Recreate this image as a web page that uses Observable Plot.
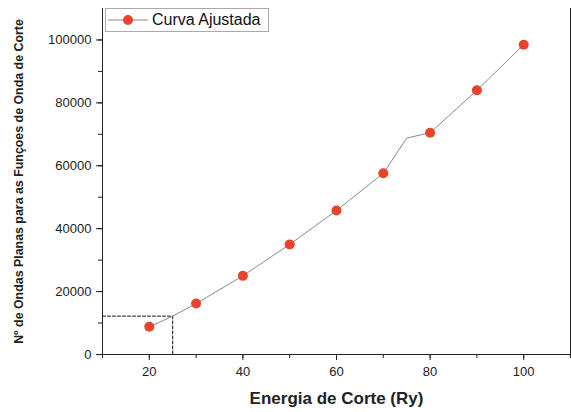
<!DOCTYPE html>
<html><head><meta charset="utf-8">
<script src="https://cdn.jsdelivr.net/npm/d3@7"></script>
<script src="https://cdn.jsdelivr.net/npm/@observablehq/plot@0.6"></script>
<style>
body{margin:0;background:#fff;font-family:"Liberation Sans",Arial,sans-serif}
#wrap{position:relative;width:571px;height:412px}
#legend{position:absolute;left:105px;top:8px;width:162px;height:22px;border:1px solid #aaa;background:#fff;display:flex;align-items:center;font-size:16px;color:#111}
#legend svg{margin-left:2px;margin-right:4px}
</style></head>
<body><div id="wrap"></div>
<script>
const energy = [20, 30, 40, 50, 60, 70, 80, 90, 100];
const planeWaves = [8800, 16200, 25000, 35000, 45800, 57600, 70500, 84000, 98500];
const curveX = [20, 25, 30, 40, 50, 60, 70, 75, 80, 90, 100];
const curveY = [8800, 12200, 16200, 25000, 35000, 45800, 57600, 68800, 70500, 84000, 98500];
const cutX = 25, cutY = 12200;
const xTicks = [20, 40, 60, 80, 100];
const xMinor = [10, 20, 30, 40, 50, 60, 70, 80, 90, 100, 110];
const yTicks = [0, 20000, 40000, 60000, 80000, 100000];
const yMinor = [0,10000,20000,30000,40000,50000,60000,70000,80000,90000,100000];

const pts = energy.map((x,i)=>({x, y: planeWaves[i]}));
const curve = curveX.map((x,i)=>({x, y: curveY[i]}));

const chart = Plot.plot({
  width: 571, height: 412,
  marginLeft: 102, marginRight: 1, marginTop: 8, marginBottom: 58,
  style: {fontFamily: '"Liberation Sans", Arial, sans-serif', background: "#fff"},
  x: {domain: [10, 110]},
  y: {domain: [0, 110000]},
  marks: [
    Plot.axisX({ticks: xMinor, tickSize: 4, text: null, label: null, stroke: "#222"}),
    Plot.axisX({ticks: xTicks, tickSize: 6, tickFormat: d => String(d), fontSize: 13, fill: "#222", stroke: "#222", tickPadding: 6,
      label: "Energia de Corte (Ry)", labelAnchor: "center", labelArrow: "none", labelOffset: 49}),
    Plot.axisY({ticks: yMinor, tickSize: 4, text: null, label: null, stroke: "#222"}),
    Plot.axisY({ticks: yTicks, tickSize: 6, tickFormat: d => String(d), fontSize: 13, fill: "#222", stroke: "#222", tickPadding: 5,
      label: "Nº de Ondas Planas para as Funçoes de Onda de Corte", labelAnchor: "center", labelArrow: "none", labelOffset: 88}),
    Plot.ruleX([10], {stroke: "#222"}),
    Plot.ruleY([0], {stroke: "#222"}),
    Plot.ruleX([110], {stroke: "#222"}),
    Plot.line([{x:10,y:cutY},{x:cutX,y:cutY},{x:cutX,y:0}], {x:"x", y:"y", stroke:"#111", strokeDasharray:"3,2", strokeWidth:1}),
    Plot.line(curve, {x:"x", y:"y", stroke:"#8a8a8a", strokeWidth:1}),
    Plot.dot(pts, {x:"x", y:"y", r:5, fill:"#e8432c", stroke:"none"})
  ]
});
chart.querySelectorAll('[aria-label="x-axis label"] text, [aria-label="y-axis label"] text').forEach(t=>{t.setAttribute("font-weight","bold");});
const xl = chart.querySelector('[aria-label="x-axis label"]'); if (xl) xl.setAttribute("font-size","17");
const yl = chart.querySelector('[aria-label="y-axis label"]'); if (yl) yl.setAttribute("font-size","12.4");
document.getElementById("wrap").appendChild(chart);
const leg = document.createElement("div"); leg.id = "legend";
leg.innerHTML = '<svg width="40" height="12"><line x1="0" y1="6" x2="40" y2="6" stroke="#8a8a8a"/><circle cx="20" cy="6" r="5" fill="#e8432c"/></svg><span>Curva Ajustada</span>';
document.getElementById("wrap").appendChild(leg);
</script></body></html>
